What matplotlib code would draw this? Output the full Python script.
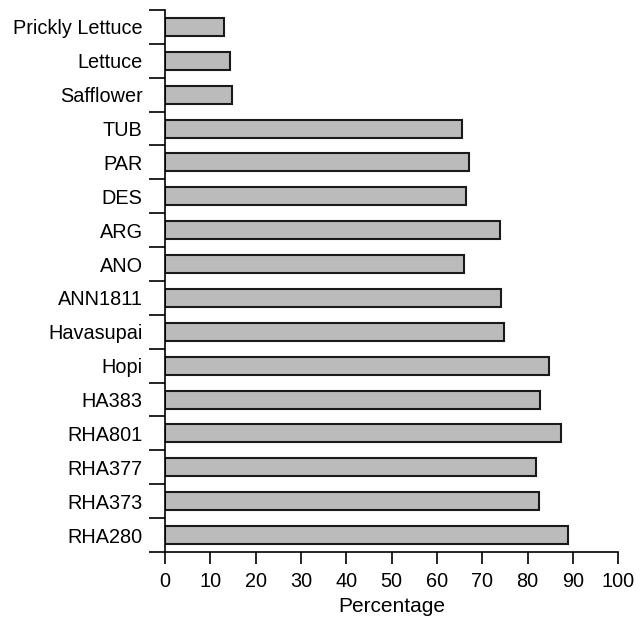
import numpy as np
import matplotlib
matplotlib.use('Agg')
import matplotlib.pyplot as plt

plt.rcParams['font.family'] = ['Liberation Sans', 'DejaVu Sans']

# top to bottom as in the picture
categories = ['Prickly Lettuce', 'Lettuce', 'Safflower', 'TUB', 'PAR', 'DES', 'ARG', 'ANO',
              'ANN1811', 'Havasupai', 'Hopi', 'HA383', 'RHA801', 'RHA377', 'RHA373', 'RHA280']
values = [13.0, 14.3, 14.7, 65.5, 67.1, 66.4, 74.0, 65.9,
          74.2, 74.8, 84.8, 82.8, 87.4, 81.9, 82.6, 88.9]
xticks = list(range(0, 101, 10))

fig = plt.figure(figsize=(6.44, 6.23), dpi=100)
ax = fig.add_axes([0.256, 0.114, 0.704, 0.87])

y = np.arange(len(categories))
ax.barh(y, values, height=0.53, color='#bbbbbb', edgecolor='#1a1a1a', linewidth=1.5)

ax.set_ylim(len(categories) - 0.5, -0.5)
ax.set_xlim(0, 100)

ax.set_yticks(np.arange(len(categories) + 1) - 0.5)
ax.set_yticklabels([])
ax.set_yticks(y, minor=True)
ax.set_yticklabels(categories, minor=True, fontsize=14.3)
ax.tick_params(axis='y', which='major', length=11.5, width=1.2, direction='out')
ax.tick_params(axis='y', which='minor', length=0, pad=16)

ax.set_xticks(xticks)
ax.set_xticklabels([str(t) for t in xticks], fontsize=14.3)
ax.tick_params(axis='x', length=8.5, width=1.2, direction='out', pad=6)
ax.set_xlabel('Percentage', fontsize=15, labelpad=4)

for s in ['top', 'right']:
    ax.spines[s].set_visible(False)
for s in ['left', 'bottom']:
    ax.spines[s].set_linewidth(1.2)

fig.savefig('out.png', dpi=100)
